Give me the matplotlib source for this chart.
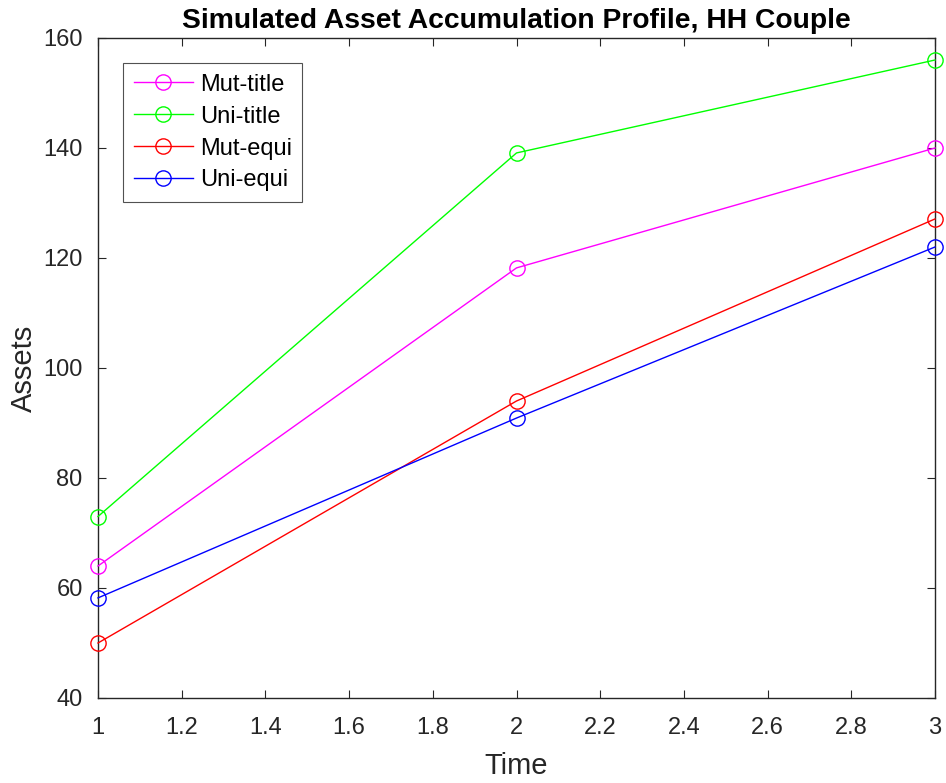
import matplotlib
matplotlib.use("Agg")
import matplotlib.pyplot as plt

plt.rcParams['font.family'] = ['Liberation Sans', 'DejaVu Sans']

time = [1, 2, 3]
mut_title = [64, 118.2, 140]
uni_title = [73, 139.1, 156]
mut_equi = [50, 94, 127.1]
uni_equi = [58.2, 90.9, 122]

series = [
    ("Mut-title", mut_title, "#ff00ff"),
    ("Uni-title", uni_title, "#00ff00"),
    ("Mut-equi", mut_equi, "#ff0000"),
    ("Uni-equi", uni_equi, "#0000ff"),
]

fig = plt.figure(figsize=(9.46, 7.83), dpi=100)
ax = fig.add_axes([98/946, 85/783, 837/946, 660/783])

for name, vals, col in series:
    ax.plot(time, vals, color=col, lw=1.0, marker='o', markersize=11,
            markerfacecolor='none', markeredgecolor=col, markeredgewidth=1.0,
            label=name, clip_on=False, zorder=3)

ax.set_xlim(1, 3)
ax.set_ylim(40, 160)
ax.set_xticks([1, 1.2, 1.4, 1.6, 1.8, 2, 2.2, 2.4, 2.6, 2.8, 3])
ax.set_xticklabels(['1', '1.2', '1.4', '1.6', '1.8', '2', '2.2', '2.4', '2.6', '2.8', '3'])
ax.set_yticks(range(40, 161, 20))

axc = '#262626'
for s in ax.spines.values():
    s.set_color(axc)
    s.set_linewidth(1.0)
ax.tick_params(direction='in', length=6, width=0.8, colors=axc, labelsize=17,
               top=True, right=True)
ax.tick_params(axis='x', pad=14)
ax.tick_params(axis='y', pad=11)
for lbl in ax.get_xticklabels() + ax.get_yticklabels():
    lbl.set_color(axc)

ax.set_xlabel('Time', fontsize=21, color=axc, labelpad=9)
ax.set_ylabel('Assets', fontsize=21, color=axc, labelpad=4)
ax.set_title('Simulated Asset Accumulation Profile, HH Couple', fontsize=20.3,
             fontweight='bold', color='black', pad=7)

leg = ax.legend(loc='upper left', bbox_to_anchor=(0.03, 0.962), fontsize=17,
                frameon=True, fancybox=False, edgecolor='#262626',
                borderpad=0.45, labelspacing=0.42, handlelength=2.5,
                handletextpad=0.3, borderaxespad=0)
leg.get_frame().set_linewidth(0.8)

fig.savefig('out.png', dpi=100)
